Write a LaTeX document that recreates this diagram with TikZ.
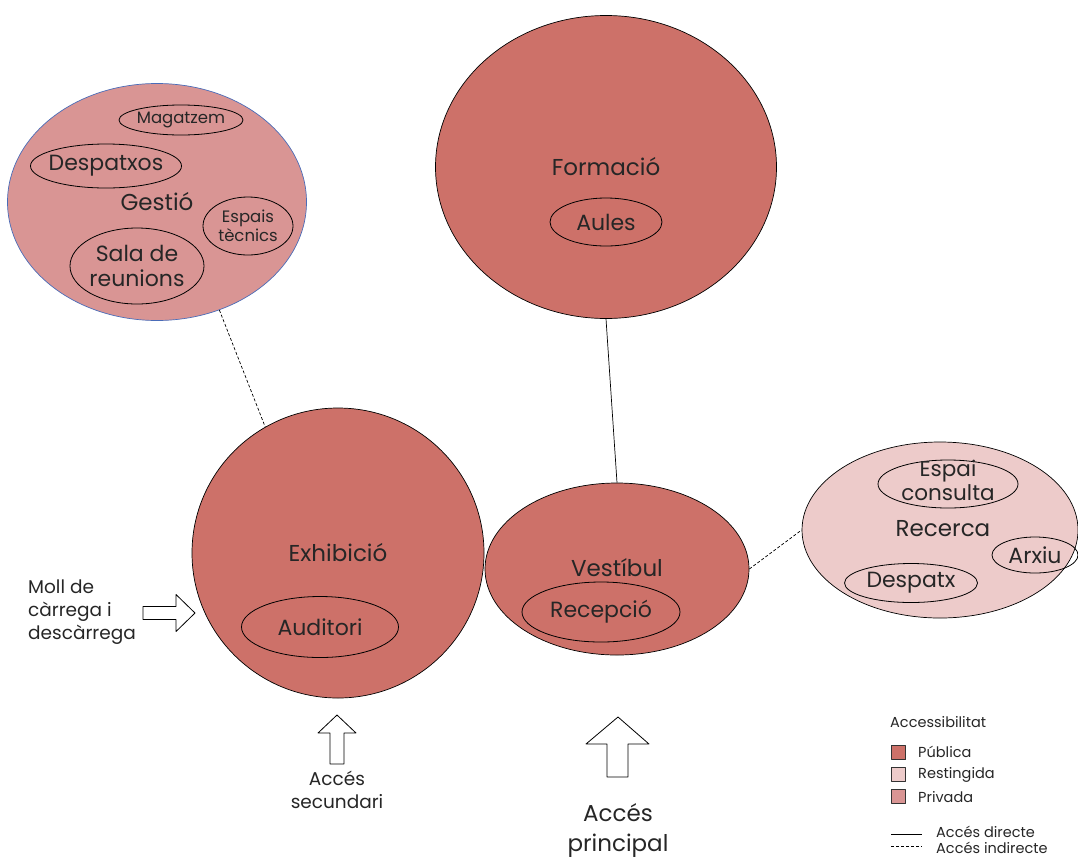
\documentclass[tikz,border=0pt]{standalone}
\usepackage{fontspec}
\setmainfont{Poppins}
\usetikzlibrary{shapes.geometric}
\definecolor{publica}{HTML}{CD7169}
\definecolor{privada}{HTML}{D99594}
\definecolor{restringida}{HTML}{EDCBCA}
\definecolor{vora}{HTML}{4A6CB8}
\definecolor{tinta}{HTML}{262626}
\begin{document}
\begin{tikzpicture}[x=1pt, y=-1pt, line join=round,
    zone/.style={ellipse, draw=black, line width=0.7pt, inner sep=0pt},
    room/.style={ellipse, draw=black, line width=0.8pt, inner sep=0pt},
    big/.style={text=tinta, inner sep=1pt, font=\fontsize{23}{27}\selectfont},
    mid/.style={text=tinta, inner sep=1pt, align=center, font=\fontsize{22}{25}\selectfont},
    small/.style={text=tinta, inner sep=1pt, align=center, font=\fontsize{16.5}{19}\selectfont},
    note/.style={text=tinta, inner sep=1pt, font=\fontsize{18.5}{23}\selectfont},
    leg/.style={text=tinta, inner sep=1pt, anchor=west, font=\fontsize{14.5}{15}\selectfont},
    key/.style={draw=black!80, line width=0.8pt, minimum size=14pt, inner sep=0pt},
    direct/.style={line width=0.7pt},
    indirect/.style={line width=0.7pt, dash pattern=on 3pt off 2pt},
    barrow/.style={draw=black, fill=white, line width=0.8pt}]
  \useasboundingbox (0,0) rectangle (1078,860);
  % zones
  \node[zone, fill=privada, draw=vora, minimum width=299pt, minimum height=237pt] (gestio) at (157,202) {};
  \node[zone, fill=publica, minimum width=341pt, minimum height=303pt] (formacio) at (606,167) {};
  \node[zone, fill=publica, minimum width=292pt, minimum height=290pt] (exhib) at (338,553) {};
  \node[zone, fill=publica, minimum width=264pt, minimum height=172pt] (vestibul) at (617,569) {};
  \node[zone, fill=restringida, minimum width=276pt, minimum height=176pt] (recerca) at (940,530) {};
  \node[big] (gestio-t) at (157,202) {Gestió};
  \node[big] (formacio-t) at (606,167) {Formació};
  \node[big] (exhib-t) at (338,553) {Exhibició};
  \node[big] (vestibul-t) at (617,568) {Vestíbul};
  \node[big] (recerca-t) at (943,529) {Recerca};
  % rooms
  \node[room, minimum width=124pt, minimum height=30pt] (magatzem) at (181,120) {};
  \node[small] at (magatzem) {Magatzem};
  \node[room, minimum width=151pt, minimum height=44pt] (despatxos) at (106,166) {};
  \node[mid] at (despatxos) {Despatxos};
  \node[room, minimum width=90pt, minimum height=58pt] (tecnics) at (248,226) {};
  \node[small] at (tecnics) {Espais\\tècnics};
  \node[room, minimum width=134pt, minimum height=76pt] (sala) at (137,266) {};
  \node[mid] at (sala) {Sala de\\reunions};
  \node[room, minimum width=112pt, minimum height=48pt] (aules) at (606,222) {};
  \node[mid] at (aules) {Aules};
  \node[room, minimum width=157pt, minimum height=61pt] (auditori) at (320,627) {};
  \node[mid] at (auditori) {Auditori};
  \node[room, minimum width=158pt, minimum height=60pt] (recepcio) at (601,612) {};
  \node[mid] at (recepcio) {Recepció};
  \node[room, minimum width=140pt, minimum height=48pt] (consulta) at (948,484) {};
  \node[mid, font=\fontsize{21.5}{24}\selectfont] at (948,480) {Espai\\consulta};
  \node[room, minimum width=86pt, minimum height=36pt] (arxiu) at (1035,555) {};
  \node[mid] at (arxiu) {Arxiu};
  \node[room, minimum width=133pt, minimum height=39pt] (despatx) at (911,583) {};
  \node[mid] at (despatx) {Despatx};
  % links
  \draw[indirect] (gestio.-60) -- (exhib.120);
  \draw[direct] (formacio.south) -- (vestibul.north);
  \draw[indirect] (vestibul.east) -- (recerca.west);
  % entrances
  \draw[barrow] (195,613) -- ++(-19,-18.5) -- ++(0,12) -- ++(-33,0) -- ++(0,13) -- ++(33,0) -- ++(0,12) -- cycle;
  \draw[barrow] (337,715) -- ++(19,18) -- ++(-12,0) -- ++(0,31) -- ++(-14,0) -- ++(0,-31) -- ++(-12,0) -- cycle;
  \draw[barrow] (618,717) -- ++(31,27) -- ++(-21,0) -- ++(0,33) -- ++(-21,0) -- ++(0,-33) -- ++(-21,0) -- cycle;
  \node[note, anchor=west, align=left] (moll) at (27,612) {Moll de\\càrrega i\\descàrrega};
  \node[note, align=center] (secundari) at (337,790) {Accés\\secundari};
  \node[big, align=center, font=\fontsize{23}{30}\selectfont] (principal) at (618,830) {Accés\\principal};
  % legend
  \node[leg] (acc) at (889,722) {Accessibilitat};
  \node[key, fill=publica] (kpub) at (898.5,752.5) {};
  \node[leg] (tpub) at (917,752) {Pública};
  \node[key, fill=restringida] (kres) at (898.5,774.5) {};
  \node[leg] (tres) at (917,775) {Restingida};
  \node[key, fill=privada] (kpri) at (898.5,796.5) {};
  \node[leg] (tpri) at (917,797) {Privada};
  \coordinate (l1a) at (891,834);
  \coordinate (l1b) at (922,834);
  \coordinate (l2a) at (891,846);
  \coordinate (l2b) at (922,846);
  \draw[direct] (l1a) -- (l1b);
  \draw[indirect] (l2a) -- (l2b);
  \node[leg] (tdir) at (935,832) {Accés directe};
  \node[leg] (tind) at (935,848) {Accés indirecte};
\end{tikzpicture}
\end{document}
